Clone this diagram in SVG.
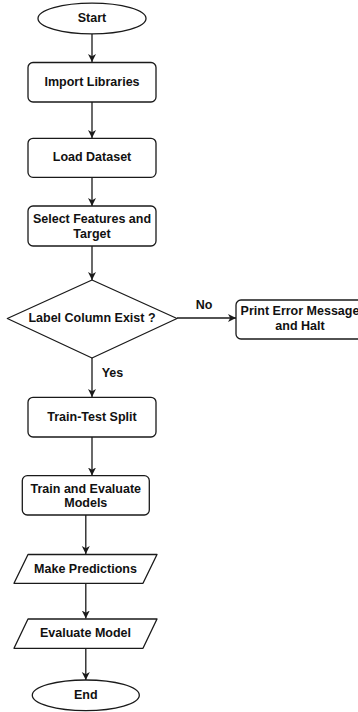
<svg xmlns="http://www.w3.org/2000/svg" width="358" height="712" viewBox="0 0 358 712">
  <style>
    .shape { fill: #ffffff; stroke: #1a1a1a; stroke-width: 1.3; stroke-linejoin: round; }
    .edge { fill: none; stroke: #1a1a1a; stroke-width: 1.3; marker-end: url(#arrow); }
    .label { font-family: "Liberation Sans", Arial, sans-serif; font-weight: bold; font-size: 12.5px; fill: #111111; text-anchor: middle; dominant-baseline: central; }
  </style>
  <defs>
    <marker id="arrow" markerWidth="9" markerHeight="9" refX="8" refY="4.5" orient="auto" markerUnits="userSpaceOnUse">
      <path d="M0,0.5 L8,4.5 L0,8.5 L2.2,4.5 Z" fill="#1a1a1a"/>
    </marker>
  </defs>
  <rect width="358" height="712" fill="#ffffff"/>

  <!-- connectors -->
  <g id="connectors">
    <path class="edge" d="M92,34 L92,62"/>
    <path class="edge" d="M92,102 L92,138"/>
    <path class="edge" d="M92,177.5 L92,206"/>
    <path class="edge" d="M92,246 L92,280"/>
    <path class="edge" d="M177,318 L236,318"/>
    <path class="edge" d="M92,358 L92,397"/>
    <path class="edge" d="M92,437 L92,475.5"/>
    <path class="edge" d="M85.8,515 L85.8,554"/>
    <path class="edge" d="M85.8,583 L85.8,618.5"/>
    <path class="edge" d="M85.8,648.5 L85.8,680"/>
    <text class="label" x="204" y="304.5">No</text>
    <text class="label" x="112.5" y="372.5">Yes</text>
  </g>

  <g id="start">
    <ellipse class="shape" cx="92" cy="18.5" rx="54" ry="15.3"/>
    <text class="label" x="92" y="18">Start</text>
  </g>

  <g id="import-libraries">
    <rect class="shape" x="28" y="62.5" width="128" height="39.5" rx="5"/>
    <text class="label" x="92" y="82">Import Libraries</text>
  </g>

  <g id="load-dataset">
    <rect class="shape" x="28" y="138.3" width="128" height="39" rx="5"/>
    <text class="label" x="92" y="157">Load Dataset</text>
  </g>

  <g id="select-features">
    <rect class="shape" x="28" y="206" width="128" height="40" rx="5"/>
    <text class="label" x="92" y="219">Select Features and</text>
    <text class="label" x="92" y="233.5">Target</text>
  </g>

  <g id="label-check">
    <polygon class="shape" points="92,280 177,318.5 92,358 7.3,318.5"/>
    <text class="label" x="92" y="318">Label Column Exist ?</text>
  </g>

  <g id="print-error">
    <rect class="shape" x="236" y="300" width="128" height="39" rx="5"/>
    <text class="label" x="300" y="311">Print Error Message</text>
    <text class="label" x="300" y="326">and Halt</text>
  </g>

  <g id="train-test-split">
    <rect class="shape" x="28" y="397.3" width="128" height="39.7" rx="5"/>
    <text class="label" x="92" y="417">Train-Test Split</text>
  </g>

  <g id="train-evaluate">
    <rect class="shape" x="22.3" y="475.7" width="127" height="39.3" rx="5"/>
    <text class="label" x="85.8" y="488.5">Train and Evaluate</text>
    <text class="label" x="85.8" y="502.8">Models</text>
  </g>

  <g id="make-predictions">
    <polygon class="shape" points="28,554.5 157,554.5 143,583.3 14,583.3"/>
    <text class="label" x="85.5" y="568.5">Make Predictions</text>
  </g>

  <g id="evaluate-model">
    <polygon class="shape" points="28,619 157,619 143,648.3 14,648.3"/>
    <text class="label" x="85.5" y="633">Evaluate Model</text>
  </g>

  <g id="end">
    <ellipse class="shape" cx="85.8" cy="695.3" rx="53.5" ry="15.3"/>
    <text class="label" x="85.8" y="695">End</text>
  </g>
</svg>
